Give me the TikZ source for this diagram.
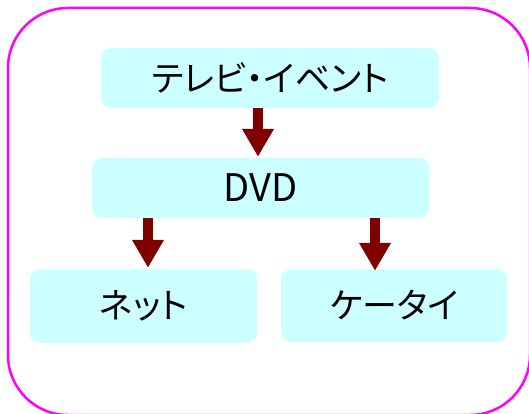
\documentclass[tikz,border=0pt]{standalone}
\usepackage{fontspec}
\setmainfont{Noto Sans CJK JP}[RawFeature={+palt}]
\usetikzlibrary{arrows.meta}
\definecolor{boxfill}{HTML}{CCFFFF}
\definecolor{arrowred}{HTML}{800000}
\definecolor{framemag}{HTML}{FF00FF}
\newcommand{\lowered}[1]{\raisebox{-3pt}{#1}}
\tikzset{
  box/.style={fill=boxfill, draw=none, rounded corners=10pt, inner sep=0pt,
    font=\fontsize{35}{38}\selectfont},
  bigarrow/.style={draw=arrowred, line width=10pt,
    -{Triangle[width=30pt,length=28pt]}, arrowred, fill=arrowred},
}
\begin{document}
\begin{tikzpicture}[x=1pt,y=-1pt]
\useasboundingbox (0,0) rectangle (529,414);
\draw[framemag, line width=2.5pt, rounded corners=60pt] (8,8) rectangle (530,415);
\node[box, minimum width=338pt, minimum height=60pt] (tv) at (270,78) {\lowered{テレビ・イベント}};
\node[box, minimum width=337pt, minimum height=60pt, font=\fontsize{38}{40}\selectfont] (dvd) at (260.5,188) {\lowered{DVD}};
\node[box, minimum width=227pt, minimum height=74pt] (net) at (143.5,306) {\lowered{ネット}};
\node[box, minimum width=226pt, minimum height=73pt] (kt) at (394,305.5) {\lowered{ケータイ}};
\coordinate (x1) at (258,0);
\coordinate (x2) at (148,0);
\coordinate (x3) at (375,0);
\draw[bigarrow] (tv.south -| x1) -- ([yshift=1pt]dvd.north -| x1);
\draw[bigarrow] (dvd.south -| x2) -- ([yshift=1pt]net.north -| x2);
\draw[bigarrow] (dvd.south -| x3) -- ([yshift=-2pt]kt.north -| x3);
\end{tikzpicture}
\end{document}
